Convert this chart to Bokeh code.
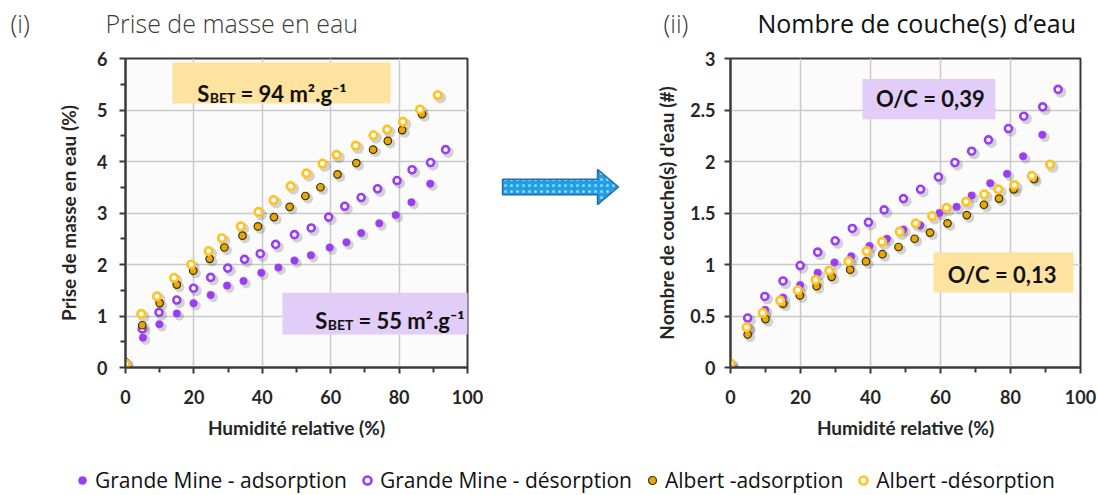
from bokeh.plotting import figure
from bokeh.models import (Range1d, FixedTicker, NumeralTickFormatter, Label, BoxAnnotation,
                          Legend, LegendItem, ColumnDataSource)
from bokeh.layouts import column, row
from bokeh.transform import dodge
from bokeh.embed import file_html
from bokeh.resources import INLINE

# ---------------- data ----------------
series_labels = ["Grande Mine - adsorption", "Grande Mine - désorption",
                 "Albert -adsorption", "Albert -désorption"]

rh_gm_ads = [0, 5.1, 9.9, 15.0, 19.9, 24.9, 29.7, 34.5, 39.7, 44.7, 49.4, 54.2, 59.7, 64.6, 68.9, 74.2, 79.0, 83.6, 89.1]
rh_gm_des = [4.9, 9.8, 15.0, 19.9, 24.9, 29.9, 34.8, 39.4, 43.9, 49.4, 54.3, 59.4, 64.1, 68.9, 73.7, 79.4, 83.8, 89.2, 93.6]
rh_al_ads = [0, 4.9, 10.0, 15.0, 19.8, 24.6, 28.9, 34.2, 38.7, 43.4, 48.0, 52.6, 57.0, 62.0, 67.5, 72.4, 76.7, 80.9, 86.7]
rh_al_des = [0, 4.6, 9.2, 14.2, 19.2, 24.3, 28.2, 33.7, 38.9, 43.3, 48.3, 52.9, 57.6, 61.7, 67.3, 72.5, 76.5, 81.1, 86.1, 91.3]

mass_gm_ads = [0.0, 0.58, 0.84, 1.05, 1.25, 1.41, 1.59, 1.68, 1.84, 1.94, 2.08, 2.18, 2.33, 2.43, 2.61, 2.80, 2.96, 3.21, 3.57]
mass_gm_des = [0.75, 1.07, 1.31, 1.54, 1.75, 1.93, 2.10, 2.21, 2.39, 2.58, 2.71, 2.92, 3.13, 3.30, 3.47, 3.63, 3.84, 3.98, 4.23]
mass_al_ads = [0.10, 0.82, 1.25, 1.61, 1.88, 2.11, 2.33, 2.56, 2.74, 2.92, 3.12, 3.33, 3.50, 3.75, 3.97, 4.23, 4.40, 4.61, 4.92]
mass_al_des = [0.07, 1.04, 1.38, 1.74, 2.00, 2.26, 2.51, 2.74, 3.02, 3.25, 3.52, 3.77, 3.96, 4.13, 4.31, 4.51, 4.62, 4.77, 5.01, 5.29]

layers_gm_ads = [0.03, 0.39, 0.56, 0.68, 0.80, 0.92, 1.02, 1.08, 1.18, 1.25, 1.34, 1.38, 1.50, 1.56, 1.67, 1.79, 1.88, 2.05, 2.26]
layers_gm_des = [0.48, 0.69, 0.84, 0.99, 1.12, 1.23, 1.35, 1.41, 1.53, 1.64, 1.73, 1.85, 1.99, 2.10, 2.21, 2.32, 2.44, 2.53, 2.70]
layers_al_ads = [0.03, 0.32, 0.47, 0.62, 0.70, 0.79, 0.88, 0.95, 1.03, 1.10, 1.17, 1.25, 1.31, 1.40, 1.48, 1.58, 1.64, 1.73, 1.83]
layers_al_des = [0.04, 0.39, 0.53, 0.65, 0.75, 0.85, 0.94, 1.03, 1.13, 1.22, 1.32, 1.40, 1.47, 1.55, 1.61, 1.68, 1.73, 1.77, 1.86, 1.97]

x_ticks = [0, 20, 40, 60, 80, 100]
x_minor = [10, 30, 50, 70, 90]
mass_ticks = [0, 1, 2, 3, 4, 5, 6]
mass_minor = [0.5, 1.5, 2.5, 3.5, 4.5, 5.5]
layer_ticks = [0, 0.5, 1, 1.5, 2, 2.5, 3]

# ---------------- styles ----------------
PURPLE = "#9A3DF3"
GOLD_FILL = "#E6A60C"
GOLD_EDGE = "#3F3300"
YELLOW = "#FFC423"
BOX_GOLD = "#FDE2A0"
BOX_LAV = "#E2CCF8"
INK = "#262626"
FRAME = "#3A3A3A"
BOLD_FONT = "Lato"

styles = [
    dict(size=7.5, fill_color=PURPLE, line_color=PURPLE, line_width=0.5),
    dict(size=7, fill_color="white", line_color=PURPLE, line_width=2.6),
    dict(size=7.5, fill_color=GOLD_FILL, line_color=GOLD_EDGE, line_width=1.2),
    dict(size=7.5, fill_color="white", line_color=YELLOW, line_width=2.7),
]

mass_sources = [ColumnDataSource(dict(x=x, y=y)) for x, y in zip(
    [rh_gm_ads, rh_gm_des, rh_al_ads, rh_al_des],
    [mass_gm_ads, mass_gm_des, mass_al_ads, mass_al_des])]
layer_sources = [ColumnDataSource(dict(x=x, y=y)) for x, y in zip(
    [rh_gm_ads, rh_gm_des, rh_al_ads, rh_al_des],
    [layers_gm_ads, layers_gm_des, layers_al_ads, layers_al_des])]


def make_chart(width, height, borders, y_max, y_ticks, y_minor, y_fmt, sources,
               y_label, x_std, y_std, ylab_std, shadow):
    l, r, t, b = borders
    p = figure(width=width, height=height, x_range=Range1d(0, 100), y_range=Range1d(0, y_max),
               toolbar_location=None, output_backend="svg",
               min_border_left=l, min_border_right=r, min_border_top=t, min_border_bottom=b,
               background_fill_color="#FBFBFB", border_fill_color="white",
               outline_line_color=FRAME, outline_line_width=2)
    xt = FixedTicker(ticks=x_ticks, minor_ticks=x_minor)
    yt = FixedTicker(ticks=y_ticks, minor_ticks=y_minor)
    p.xaxis.ticker = xt
    p.xgrid.ticker = xt
    p.yaxis.ticker = yt
    p.ygrid.ticker = yt
    if y_fmt is not None:
        p.yaxis.formatter = y_fmt
    for g in (p.xgrid[0], p.ygrid[0]):
        g.grid_line_color = "#C9C9C9"
        g.grid_line_width = 1.5
    for ax in (p.xaxis[0], p.yaxis[0]):
        ax.axis_line_color = FRAME
        ax.axis_line_width = 2
        ax.major_tick_line_color = FRAME
        ax.major_tick_line_width = 2
        ax.major_tick_out = 6
        ax.major_tick_in = 0
        ax.minor_tick_line_color = FRAME
        ax.minor_tick_line_width = 2
        ax.minor_tick_out = 5
        ax.minor_tick_in = 0
        ax.major_label_text_font = BOLD_FONT
        ax.major_label_text_font_style = "bold"
        ax.major_label_text_font_size = "18px"
        ax.major_label_text_color = INK
        ax.axis_label_text_font = BOLD_FONT
        ax.axis_label_text_font_style = "bold"
        ax.axis_label_text_font_size = "19px"
        ax.axis_label_text_color = INK
    p.xaxis.major_label_standoff = x_std
    p.yaxis.major_label_standoff = y_std
    p.xaxis.axis_label = "Humidité relative (%)"
    p.xaxis.axis_label_standoff = 9
    p.yaxis.axis_label = y_label
    p.yaxis.axis_label_standoff = ylab_std

    dx, dy = shadow
    for src, st in zip(sources, styles):
        p.scatter(x=dodge("x", dx), y=dodge("y", dy), source=src, marker="circle",
                  size=st["size"] + st["line_width"] + 1.5, fill_color="#000000", fill_alpha=0.16,
                  line_color=None)
    for src, st in zip(sources, styles):
        p.scatter(x="x", y="y", source=src, marker="circle", **st)
    return p


# ---------------- left chart ----------------
left = make_chart(490, 404, (125, 23, 14, 81), 6, mass_ticks, mass_minor, None, mass_sources,
                  "Prise de masse en eau (%)", 16, 12, 14, (0.75, -0.05))

left.add_layout(BoxAnnotation(left=13.7, right=77.5, bottom=5.125, top=5.92,
                              fill_color=BOX_GOLD, fill_alpha=1, line_color=None, level="underlay"))
left.add_layout(BoxAnnotation(left=45.9, right=103.5, bottom=0.64, top=1.45,
                              fill_color=BOX_LAV, fill_alpha=1, line_color=None, level="underlay"))


def sbet(p, x, y, dy, txt):
    kw = dict(text_font=BOLD_FONT, text_font_style="bold", text_color="#111111")
    p.add_layout(Label(x=x, y=y, text=txt, text_align="left", text_baseline="alphabetic",
                       text_font_size="22px", **kw))
    p.add_layout(Label(x=x, y=y - dy, text="BET", text_align="right", text_baseline="alphabetic",
                       x_offset=-5, text_font_size="14px", **kw))
    p.add_layout(Label(x=x, y=y, text="S", text_align="right", text_baseline="alphabetic",
                       x_offset=-31, text_font_size="22px", **kw))


sbet(left, 33.6, 5.32, 0.08, "= 94 m².g⁻¹")
sbet(left, 68.1, 0.91, 0.08, "= 55 m².g⁻¹")

# ---------------- right chart ----------------
right = make_chart(456, 404, (90, 16, 9, 78), 3, layer_ticks, [], NumeralTickFormatter(format="0.[0]"),
                   layer_sources, "Nombre de couche(s) d'eau (#)", 16, 9, 9, (0.75, -0.025))

right.add_layout(BoxAnnotation(left=37.7, right=75.7, bottom=2.41, top=2.80,
                               fill_color=BOX_LAV, fill_alpha=1, line_color=None, level="underlay"))
right.add_layout(BoxAnnotation(left=58.0, right=98.0, bottom=0.729, top=1.117,
                               fill_color=BOX_GOLD, fill_alpha=1, line_color=None, level="underlay"))
for (tx, ty, tt) in [(57.1, 2.61, "O/C = 0,39"), (77.6, 0.904, "O/C = 0,13")]:
    right.add_layout(Label(x=tx, y=ty, text=tt, text_align="center", text_baseline="middle",
                           text_font=BOLD_FONT, text_font_style="bold", text_font_size="22px",
                           text_color="#111111"))

# ---------------- arrow (decoration) ----------------
arrow = figure(width=150, height=404, x_range=Range1d(490, 640), y_range=Range1d(448, 44),
               toolbar_location=None, output_backend="svg", min_border=0,
               x_axis_type=None, y_axis_type=None, outline_line_color=None,
               background_fill_color="white", border_fill_color="white")
arrow_xs = [502, 597, 597, 618, 597, 597, 502]
arrow_ys = [202, 202, 189, 212, 235, 222, 222]
arrow.patch(arrow_xs, arrow_ys, fill_color="#1FA0E4", line_color="#2B6CA8", line_width=1.5,
            hatch_pattern="dot", hatch_color="white", hatch_alpha=0.55, hatch_scale=6, hatch_weight=1.2)

# ---------------- titles ----------------
titles = figure(width=1096, height=44, x_range=Range1d(0, 1096), y_range=Range1d(44, 0),
                toolbar_location=None, output_backend="svg", min_border=0,
                x_axis_type=None, y_axis_type=None, outline_line_color=None,
                background_fill_color="white", border_fill_color="white")
LIGHT = "'Open Sans Light', 'Open Sans'"
for tx, tt, col, fnt in [(10, "(i)", "#3C3C3C", LIGHT), (105, "Prise de masse en eau", "#3C3C3C", LIGHT),
                         (663, "(ii)", "#3C3C3C", LIGHT), (757, "Nombre de couche(s) d’eau", "#111111", "Open Sans")]:
    titles.add_layout(Label(x=tx, y=22, text=tt, text_align="left", text_baseline="middle",
                            text_font=fnt, text_font_size="25px", text_color=col))

# ---------------- legend ----------------
# legend renderers reuse the series sources; the legend panel's ranges keep the points out of view
leg = figure(width=1096, height=46, x_range=Range1d(-20, -10), y_range=Range1d(-20, -10),
             toolbar_location=None, output_backend="svg", min_border=0,
             x_axis_type=None, y_axis_type=None, outline_line_color=None,
             background_fill_color="white", border_fill_color="white")
items = []
for lab, st, src in zip(series_labels, styles, mass_sources):
    r = leg.scatter(x="x", y="y", source=src, marker="circle", **st)
    items.append(LegendItem(label=lab, renderers=[r]))
legend = Legend(items=items, orientation="horizontal", location=(72, 0),
                label_text_font="Open Sans", label_text_font_size="21px", label_text_color="#111111",
                glyph_width=20, glyph_height=20, label_standoff=3, spacing=10,
                padding=0, margin=0, border_line_color=None, background_fill_alpha=0)
leg.add_layout(legend, "center")

layout = column(titles, row(left, arrow, right), leg)
open("out.html", "w").write(file_html(layout, INLINE))
